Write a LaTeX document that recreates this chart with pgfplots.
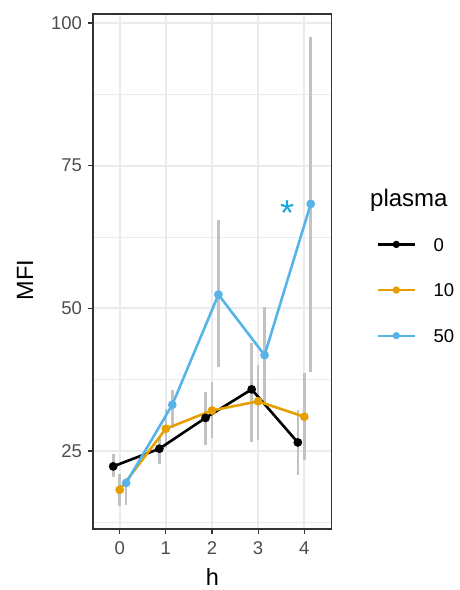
\documentclass[border=0pt]{standalone}
\usepackage{fontspec}
\setmainfont{Liberation Sans}
\usepackage{pgfplots}
\pgfplotsset{compat=1.18}

\definecolor{c0}{HTML}{000000}
\definecolor{c10}{HTML}{E69F00}
\definecolor{c50}{HTML}{56B4E9}
\definecolor{errgrey}{HTML}{C2C2C2}
\definecolor{gridgrey}{HTML}{EBEBEB}
\definecolor{framegrey}{HTML}{333333}
\definecolor{ticktext}{HTML}{4D4D4D}
\definecolor{starblue}{HTML}{14A8E0}

\begin{document}
\begin{tikzpicture}[x=1pt,y=1pt]
\path[use as bounding box] (0,0) rectangle (460,590);
\begin{axis}[
  at={(93pt,61pt)}, anchor=south west,
  scale only axis, width=238.7pt, height=515pt,
  xmin=-0.578, xmax=4.594, ymin=11.33, ymax=101.58,
  xtick={0,1,2,3,4}, ytick={25,50,75,100},
  minor ytick={12.5,37.5,62.5,87.5},
  grid=both,
  major grid style={gridgrey, line width=2pt},
  minor grid style={gridgrey, line width=1pt},
  axis line style={framegrey, line width=1.2pt},
  tick style={framegrey, line width=1.2pt},
  major tick length=5pt, minor tick length=0pt,
  tick align=outside, xtick pos=left, ytick pos=left,
  ticklabel style={font=\fontsize{18.5}{18.5}\selectfont, text=ticktext},
  yticklabel style={xshift=-2.5pt},
  xticklabel style={yshift=-4pt},
  /pgf/number format/assume math mode=true,
  xlabel={h}, ylabel={MFI},
  label style={font=\fontsize{23.5}{23.5}\selectfont},
  xlabel style={at={(axis description cs:0.5,-0.0932)}, anchor=center},
  ylabel style={at={(axis description cs:-0.285,0.4835)}, anchor=center},
  legend style={at={(axis description cs:1.1885,0.464)}, anchor=west,
    draw=none, fill=none, inner sep=0pt, row sep=32pt, column sep=18pt,
    font=\fontsize{18.5}{18.5}\selectfont,
    nodes={inner sep=0pt, text height=13.6pt, text depth=0pt}},
  legend cell align=left,
  legend image code/.code={\draw[mark repeat=2,mark phase=2,#1,line width=2.2pt,mark size=2.5pt]
    plot coordinates {(0pt,0pt) (18.3pt,0pt) (36.6pt,0pt)};},
]

% interval bars, drawn under the means
\addplot[errgrey, line width=2.6pt, forget plot, unbounded coords=jump] coordinates {
  (-0.14,20.5) (-0.14,24.4) (nan,nan)
  (0.86,22.7) (0.86,27.2) (nan,nan)
  (1.86,26.1) (1.86,35.4) (nan,nan)
  (2.86,26.6) (2.86,43.9) (nan,nan)
  (3.86,20.8) (3.86,32.2) (nan,nan)
  (0,15.4) (0,21.0) (nan,nan)
  (1,25.5) (1,32.3) (nan,nan)
  (2,27.2) (2,37.1) (nan,nan)
  (3,27.0) (3,40.0) (nan,nan)
  (4,23.4) (4,38.6) (nan,nan)
  (0.14,15.5) (0.14,20.3) (nan,nan)
  (1.14,29.0) (1.14,35.7) (nan,nan)
  (2.14,39.8) (2.14,65.4) (nan,nan)
  (3.14,33.3) (3.14,50.3) (nan,nan)
  (4.14,38.9) (4.14,97.5)
};

\addplot[c0, line width=2.6pt, mark=*, mark size=3pt, mark options={solid}] coordinates {
  (-0.14,22.3) (0.86,25.4) (1.86,30.8) (2.86,35.8) (3.86,26.5)
};
\addlegendentry{0}
\addplot[c10, line width=2.6pt, mark=*, mark size=3pt, mark options={solid}] coordinates {
  (0,18.2) (1,28.9) (2,32.1) (3,33.7) (4,31.0)
};
\addlegendentry{10}
\addplot[c50, line width=2.6pt, mark=*, mark size=3pt, mark options={solid}] coordinates {
  (0.14,19.4) (1.14,33.1) (2.14,52.4) (3.14,41.8) (4.14,68.3)
};
\addlegendentry{50}

\node[text=starblue, font=\fontsize{36}{36}\selectfont, inner sep=0pt, yshift=-7pt]
  at (axis cs:3.63,67.9) {*};
\end{axis}
\node[anchor=base west, inner sep=0pt, font=\fontsize{24}{24}\selectfont]
  at (370,383.3) {plasma};
\end{tikzpicture}
\end{document}
